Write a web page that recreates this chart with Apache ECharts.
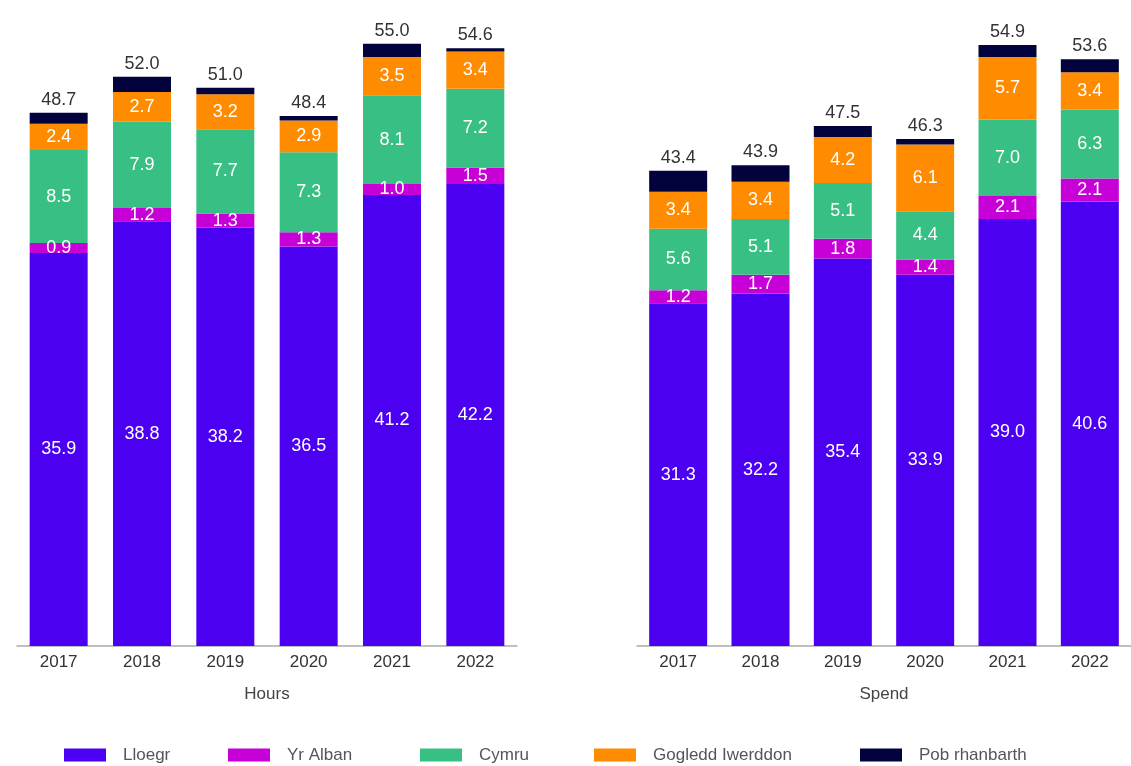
<!DOCTYPE html>
<html>
<head>
<meta charset="utf-8">
<script src="https://cdn.jsdelivr.net/npm/echarts@6/dist/echarts.min.js"></script>
<style>
  html, body { margin: 0; padding: 0; background: #fff; }
  #chart { width: 1131px; height: 766px; }
</style>
</head>
<body>
<div id="chart"></div>
<script>
// data
const years = ['2017', '2018', '2019', '2020', '2021', '2022'];
const names = ['Lloegr', 'Yr Alban', 'Cymru', 'Gogledd Iwerddon', 'Pob rhanbarth'];
const colors = ['#4b00f2', '#c800d8', '#38c084', '#ff8c00', '#02023c'];

// Hours
const hoursLloegr = [35.9, 38.8, 38.2, 36.5, 41.2, 42.2];
const hoursAlban = [0.9, 1.2, 1.3, 1.3, 1.0, 1.5];
const hoursCymru = [8.5, 7.9, 7.7, 7.3, 8.1, 7.2];
const hoursGogledd = [2.4, 2.7, 3.2, 2.9, 3.5, 3.4];
const hoursPob = [1.0, 1.4, 0.6, 0.4, 1.2, 0.3];
const hoursTotal = [48.7, 52.0, 51.0, 48.4, 55.0, 54.6];

// Spend
const spendLloegr = [31.3, 32.2, 35.4, 33.9, 39.0, 40.6];
const spendAlban = [1.2, 1.7, 1.8, 1.4, 2.1, 2.1];
const spendCymru = [5.6, 5.1, 5.1, 4.4, 7.0, 6.3];
const spendGogledd = [3.4, 3.4, 4.2, 6.1, 5.7, 3.4];
const spendPob = [1.9, 1.5, 1.0, 0.5, 1.1, 1.2];
const spendTotal = [43.4, 43.9, 47.5, 46.3, 54.9, 53.6];

const FONT = '"Liberation Sans", Arial, sans-serif';

const chart = echarts.init(document.getElementById('chart'));

function makeSeries(idx, sets, totals, stackName) {
  return sets.map((data, i) => {
    const s = {
      name: names[i],
      type: 'bar',
      stack: stackName,
      xAxisIndex: idx,
      yAxisIndex: idx,
      barWidth: 58,
      data: data,
      itemStyle: { color: colors[i] },
      label: {
        show: i < 4,
        position: 'inside',
        color: '#fff',
        fontSize: 18,
        fontFamily: FONT,
        formatter: p => p.value.toFixed(1)
      }
    };
    // top segment carries the total above the stack
    if (i === 4) {
      s.label = {
        show: true,
        position: 'top',
        distance: 4,
        color: '#333',
        fontSize: 18,
        fontFamily: FONT,
        formatter: p => totals[p.dataIndex].toFixed(1)
      };
    }
    return s;
  });
}

function makeX(idx, title) {
  return {
    type: 'category',
    gridIndex: idx,
    data: years,
    axisTick: { show: false },
    axisLine: { lineStyle: { color: '#aaa', width: 1.5 } },
    axisLabel: { color: '#333', fontSize: 17, fontFamily: FONT, margin: 8 },
    name: title,
    nameLocation: 'middle',
    nameGap: 40,
    nameTextStyle: { color: '#444', fontSize: 17, fontFamily: FONT }
  };
}

function makeY(idx) {
  return { type: 'value', gridIndex: idx, min: 0, max: 58, show: false, splitLine: { show: false } };
}

const legendLeft = [64, 228, 420, 594, 860];
const legends = names.map((n, i) => ({
  data: [n],
  left: legendLeft[i],
  top: 745,
  padding: 0,
  itemWidth: 42,
  itemHeight: 13,
  itemGap: 0,
  icon: 'rect',
  textStyle: { color: '#555', fontSize: 17, fontFamily: FONT, lineHeight: 20, padding: [0, 0, 0, 12] },
  selectedMode: false
}));

const option = {
  backgroundColor: '#fff',
  animation: false,
  legend: legends,
  grid: [
    { left: 17, top: 11, width: 500, height: 635 },
    { left: 637, top: 11, width: 497, height: 635 }
  ],
  xAxis: [makeX(0, 'Hours'), makeX(1, 'Spend')],
  yAxis: [makeY(0), makeY(1)],
  series: [].concat(
    makeSeries(0, [hoursLloegr, hoursAlban, hoursCymru, hoursGogledd, hoursPob], hoursTotal, 'hours'),
    makeSeries(1, [spendLloegr, spendAlban, spendCymru, spendGogledd, spendPob], spendTotal, 'spend')
  )
};

chart.setOption(option);
</script>
</body>
</html>
